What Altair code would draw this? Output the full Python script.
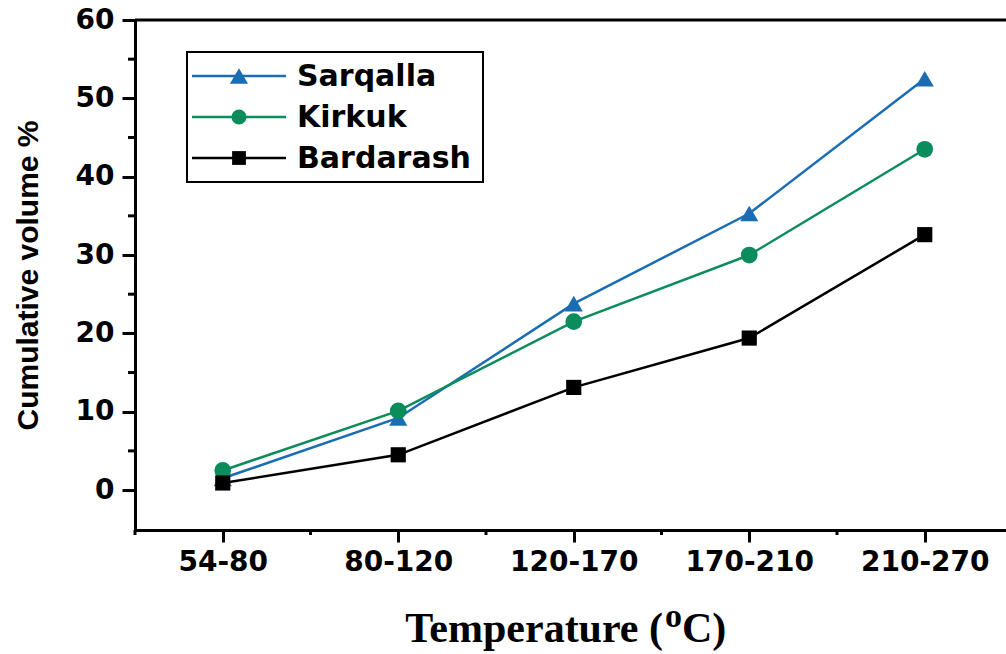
import json
import altair as alt
import pandas as pd

# ---- data ----
categories = ["54-80", "80-120", "120-170", "170-210", "210-270"]
series_names = ["Sarqalla", "Kirkuk", "Bardarash"]
sarqalla = [1.5, 9.2, 23.8, 35.3, 52.5]
kirkuk = [2.5, 10.1, 21.5, 30.0, 43.5]
bardarash = [0.9, 4.5, 13.1, 19.4, 32.6]
colors = ["#1a6db3", "#0b8c5c", "#000000"]
shapes = ["triangle-up", "circle", "square"]
y_ticks = [0, 10, 20, 30, 40, 50, 60]
y_minor = [5, 15, 25, 35, 45, 55]
x_major = [1, 2, 3, 4, 5]
x_minor = [0.5, 1.5, 2.5, 3.5, 4.5, 5.5]
y_title = "Cumulative volume %"
x_title_main = "Temperature ("
x_title_sup = "o"
x_title_end = "C)"

W, H = 871, 510
values = {"Sarqalla": sarqalla, "Kirkuk": kirkuk, "Bardarash": bardarash}
rows = []
for s in series_names:
    for i, c in enumerate(categories):
        rows.append({"series": s, "xi": i + 1, "cat": c, "v": values[s][i]})
df = pd.DataFrame(rows)

xscale = alt.Scale(domain=[0.5, 0.5 + W / 175.5], nice=False, zero=False)
yscale = alt.Scale(domain=[-5.1, 60], nice=False, zero=False)
cscale = alt.Scale(domain=series_names, range=colors)
sscale = alt.Scale(domain=series_names, range=shapes)
marker_sizes = [330, 230, 190]
zscale = alt.Scale(domain=series_names, range=marker_sizes)

label_expr = json.dumps(categories) + "[round(datum.value) - 1]"

x_axis = alt.Axis(values=x_major, labelExpr=label_expr, tickSize=12, tickWidth=3,
                  domainWidth=3, domainColor="black", tickColor="black",
                  labelColor="black", labelFont="DejaVu Sans", labelFontWeight="bold",
                  labelFontSize=28, labelPadding=6, grid=False, labelFlush=False)
y_axis = alt.Axis(values=y_ticks, tickSize=13, tickWidth=3, domainWidth=3,
                  domainColor="black", tickColor="black", labelColor="black",
                  labelFont="DejaVu Sans", labelFontWeight="bold", labelFontSize=28,
                  labelPadding=8, grid=False, titleFont="Liberation Sans",
                  titleFontWeight="bold", titleFontSize=30, titleColor="black",
                  titlePadding=32, labelFlush=False)


def X(field):
    return alt.X(field, scale=xscale, title=None, axis=x_axis)


def Y(field):
    return alt.Y(field, scale=yscale, title=y_title, axis=y_axis)


lines = alt.Chart(df).mark_line(strokeWidth=2.5).encode(
    x=X("xi:Q"), y=Y("v:Q"),
    color=alt.Color("series:N", scale=cscale, legend=None),
    detail="series:N",
)
points = alt.Chart(df).mark_point(filled=True, opacity=1).encode(
    x=X("xi:Q"), y=Y("v:Q"),
    color=alt.Color("series:N", scale=cscale, legend=None),
    shape=alt.Shape("series:N", scale=sscale, legend=None),
    size=alt.Size("series:N", scale=zscale, legend=None),
)

xminor = alt.Chart(pd.DataFrame({"xi": x_minor})).mark_rule(strokeWidth=3, color="black").encode(
    x=X("xi:Q"), y=alt.value(H), y2=alt.value(H + 5)
)
yminor = alt.Chart(pd.DataFrame({"v": y_minor})).mark_rule(strokeWidth=3, color="black").encode(
    y=Y("v:Q"), x=alt.value(-7), x2=alt.value(0)
)
one = pd.DataFrame({"a": [0]})
top = alt.Chart(one).mark_rule(strokeWidth=3, color="black").encode(
    x=alt.value(0), x2=alt.value(W), y=alt.value(0)
)

# legend
box = alt.Chart(one).mark_rect(
    fill="white", stroke="black", strokeWidth=2
).encode(x=alt.value(52), x2=alt.value(348), y=alt.value(32), y2=alt.value(162))
leg_layers = [box]
leg_y = [56, 97, 138]
for i, s in enumerate(series_names):
    d = pd.DataFrame({"series": [s]})
    leg_layers.append(alt.Chart(d).mark_rule(strokeWidth=2.5, color=colors[i]).encode(
        x=alt.value(57), x2=alt.value(151), y=alt.value(leg_y[i])))
    leg_layers.append(alt.Chart(d).mark_point(filled=True, opacity=1, shape=shapes[i],
                                              color=colors[i], size=marker_sizes[i]).encode(
        x=alt.value(104), y=alt.value(leg_y[i])))
    leg_layers.append(alt.Chart(d).mark_text(align="left", baseline="middle",
                                             font="DejaVu Sans", fontWeight="bold",
                                             fontSize=30, color="black").encode(
        x=alt.value(162), y=alt.value(leg_y[i] + 1), text="series:N"))

# x title
t1 = alt.Chart(one).mark_text(text=x_title_main, align="right", baseline="alphabetic",
                              font="Liberation Serif", fontWeight="bold", fontSize=42,
                              color="black").encode(x=alt.value(528), y=alt.value(622))
t2 = alt.Chart(one).mark_text(text=x_title_sup, align="left", baseline="alphabetic",
                              font="Liberation Serif", fontWeight="bold", fontSize=34,
                              color="black").encode(x=alt.value(530), y=alt.value(607))
t3 = alt.Chart(one).mark_text(text=x_title_end, align="left", baseline="alphabetic",
                              font="Liberation Serif", fontWeight="bold", fontSize=42,
                              color="black").encode(x=alt.value(547), y=alt.value(622))

chart = alt.layer(
    lines, points, xminor, yminor, top, *leg_layers, t1, t2, t3
).properties(
    width=W, height=H,
    autosize=alt.AutoSizeParams(type="none"),
    padding={"left": 135, "top": 20, "right": 0, "bottom": 124},
    background="white",
).configure_view(stroke=None)

chart.save("out.html", embed_options={"renderer": "svg", "actions": False})
